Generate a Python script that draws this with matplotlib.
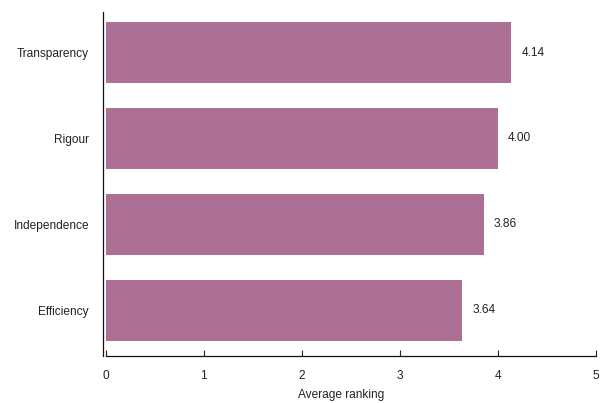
import matplotlib
matplotlib.use("Agg")
import matplotlib.pyplot as plt

categories = ["Efficiency", "Independence", "Rigour", "Transparency"]
values = [3.64, 3.86, 4.00, 4.14]
value_labels = ["3.64", "3.86", "4.00", "4.14"]
xticks = [0, 1, 2, 3, 4, 5]

FS = 8.6
plt.rcParams['font.family'] = ['Liberation Sans', 'DejaVu Sans']
plt.rcParams['font.size'] = FS
plt.rcParams['xtick.labelsize'] = FS
plt.rcParams['ytick.labelsize'] = FS
plt.rcParams['axes.labelsize'] = FS
text_color = "#222222"

fig = plt.figure(figsize=(6.01, 4.03), dpi=100)
ax = fig.add_axes([0.1759, 0.1166, 0.9912 - 0.1759, 0.970 - 0.1166])

ypos = list(range(len(categories)))
ax.barh(ypos, values, height=0.705, color="#AB7094")
for y, v, lab in zip(ypos, values, value_labels):
    ax.annotate(lab, (v, y), xytext=(10, 0), textcoords="offset pixels",
                va="center", ha="left", fontsize=FS, color=text_color)

ax.set_xlim(0, 5)
ax.set_ylim(-0.53, 3.47)
ax.set_yticks(ypos)
ax.set_yticklabels(categories)
ax.set_xticks(xticks)
ax.set_xticklabels([str(t) for t in xticks])
ax.tick_params(axis="y", length=0, pad=10, labelcolor=text_color, labelsize=FS)
ax.tick_params(axis="x", direction="in", length=4.5, width=0.8, pad=10,
               color="#222222", labelcolor=text_color, labelsize=FS)
ax.set_xlabel("Average ranking", color=text_color, va="center")
ax.xaxis.set_label_coords(0.481, -0.113)

ax.spines["top"].set_visible(False)
ax.spines["right"].set_visible(False)
ax.spines["left"].set_position(("outward", 2))
for s in ("left", "bottom"):
    ax.spines[s].set_color("#111111")
    ax.spines[s].set_linewidth(0.9)

fig.savefig("out.png", dpi=100)
